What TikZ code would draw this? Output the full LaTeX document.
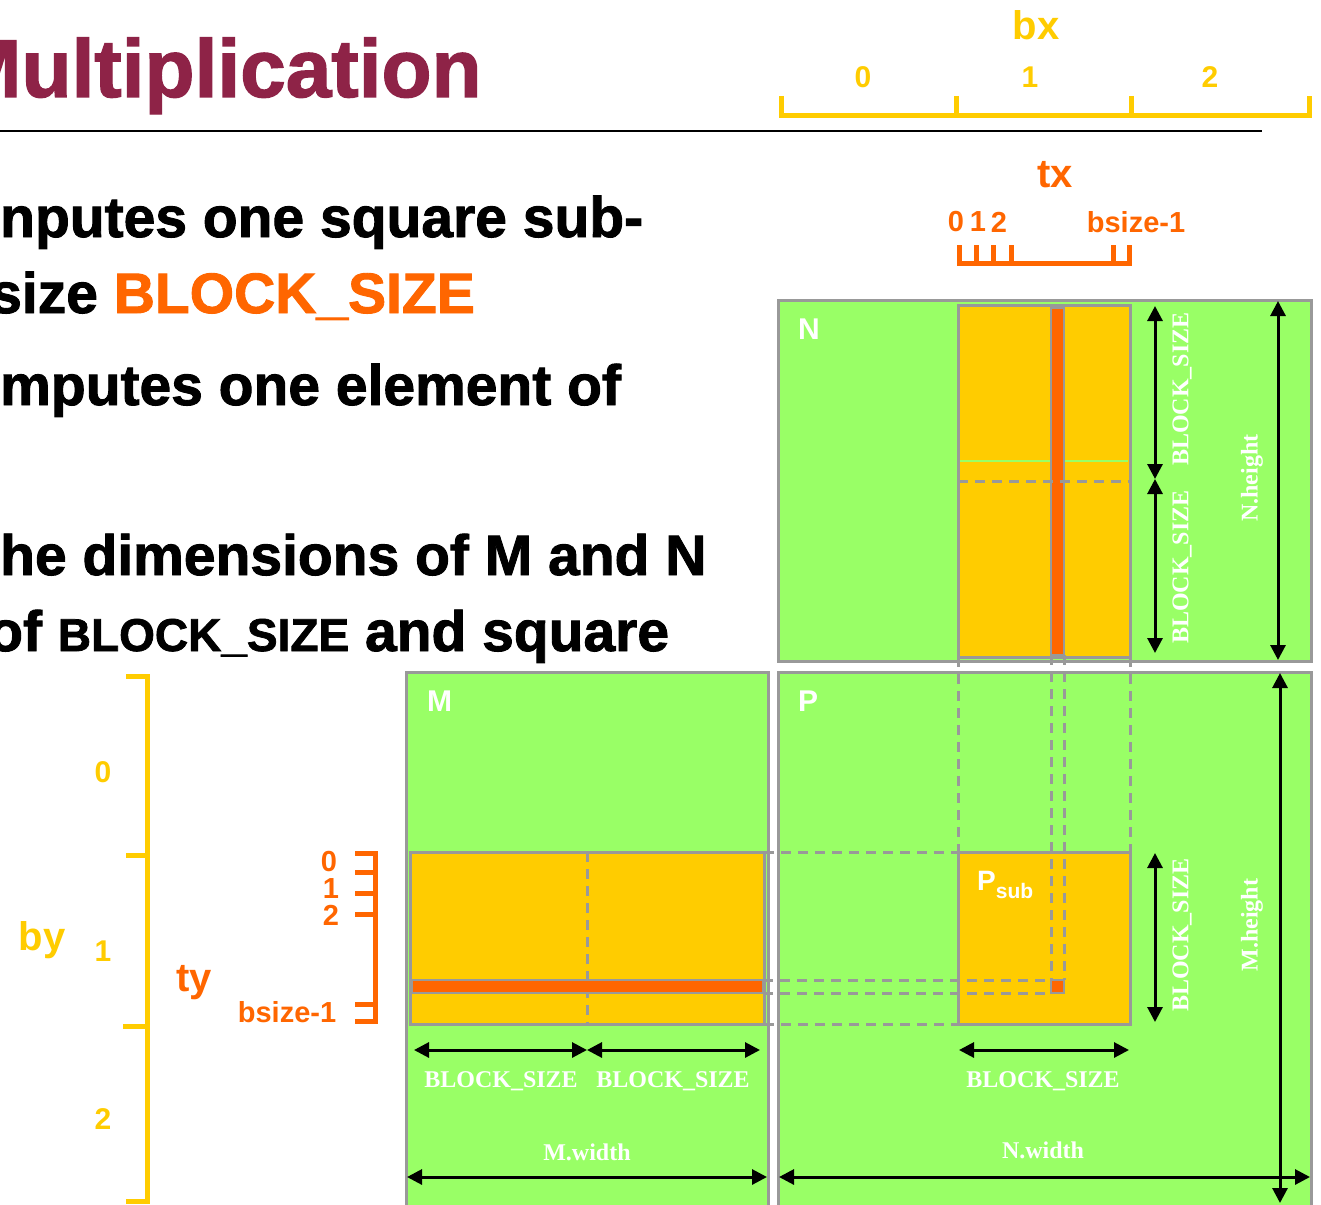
\documentclass[tikz,border=0pt]{standalone}
\usepackage{fontspec}
\setmainfont{Liberation Sans}
\newfontfamily\timesfont{Liberation Serif}
\newfontfamily\heavyfont{Liberation Sans}[UprightFont=* Bold, FakeBold=1.6]
\usepackage{tikz}
\usetikzlibrary{arrows.meta,positioning,calc}
\definecolor{titlered}{HTML}{8E2347}
\definecolor{matgreen}{HTML}{99FF66}
\definecolor{subyellow}{HTML}{FFCC00}
\definecolor{gridgray}{HTML}{999999}
\definecolor{idxorange}{HTML}{FF6600}

\begin{document}
\begin{tikzpicture}[x=1pt, y=-1pt,
  matbox/.style={draw=gridgray, line width=3pt, fill=matgreen, inner sep=0pt, outer sep=0pt, anchor=north west},
  subbox/.style={draw=gridgray, line width=3pt, fill=subyellow, inner sep=0pt, outer sep=0pt, anchor=north west},
  elembox/.style={draw=gridgray, line width=2.5pt, fill=idxorange, inner sep=0pt, outer sep=0pt, anchor=north west},
  guide/.style={gridgray, line width=3pt, dash pattern=on 10pt off 7pt},
  dimarrow/.style={line width=3pt, {Triangle[length=15pt,width=15pt]}-{Triangle[length=15pt,width=15pt]}},
  dimlab/.style={text=white, font=\timesfont\bfseries\fontsize{24}{24}\selectfont, inner sep=0pt},
  matlab/.style={text=white, font=\bfseries\fontsize{30}{30}\selectfont, inner sep=0pt},
  bodyline/.style={font=\heavyfont\fontsize{57}{60}\selectfont, anchor=base west, inner sep=0pt},
  blockidx/.style={text=subyellow, font=\bfseries\fontsize{30}{30}\selectfont, inner sep=0pt},
  threadidx/.style={text=idxorange, font=\bfseries\fontsize{29}{29}\selectfont, inner sep=0pt},
  idxname/.style={font=\bfseries\fontsize{40}{40}\selectfont, inner sep=0pt},
  bxbracket/.style={subyellow, line width=5pt},
  txbracket/.style={idxorange, line width=5pt}
]
\useasboundingbox (0,0) rectangle (1321,1204);
\fill[white] (0,0) rectangle (1321,1204);
\clip (0,0) rectangle (1321,1204);

% slide text
\node[anchor=base west, inner sep=0pt, text=titlered, font=\heavyfont\fontsize{82}{82}\selectfont] (title) at (-47,97) {Multiplication};
\coordinate (ruleL) at (0,131);
\coordinate (ruleR) at (1262,131);
\draw[line width=2.5pt] (ruleL) -- (ruleR);
\node[bodyline] (line1) at (0,237) {nputes one square sub-};
\node[bodyline] (line2) at (-10,313) {size \textcolor{idxorange}{BLOCK\_SIZE}};
\node[bodyline] (line3) at (0,405) {mputes one element of};
\node[bodyline] (line4) at (0,575) {he dimensions of M and N};
\node[bodyline] (line5) at (-12,651) {of {\fontsize{46}{46}\selectfont BLOCK\_SIZE} and square};

% block and thread indices
\node[idxname, text=subyellow] (bx) at (1036,25) {bx};
\node[blockidx] (bx0) at (863,77) {0};
\node[blockidx] (bx1) at (1030,77) {1};
\node[blockidx] (bx2) at (1210,77) {2};
\draw[bxbracket] (781,96) -- (781,116) -- (1309,116) -- (1309,96);
\draw[bxbracket] (956,96) -- (956,116);
\draw[bxbracket] (1131,96) -- (1131,116);

\node[idxname, text=idxorange] (tx) at (1055,175) {tx};
\node[threadidx] (tx0) at (956,222) {0};
\node[threadidx] (tx1) at (978,222) {1};
\node[threadidx] (tx2) at (999,222) {2};
\node[threadidx] (txn) at (1136,222) {bsize-1};
\draw[txbracket] (959,245) -- (959,263) -- (1129,263) -- (1129,245);
\draw[txbracket] (976,245) -- (976,263);
\draw[txbracket] (993,245) -- (993,263);
\draw[txbracket] (1011,245) -- (1011,263);
\draw[txbracket] (1113,245) -- (1113,263);

\node[idxname, text=subyellow] (by) at (42,940) {by};
\node[blockidx] (by0) at (103,772) {0};
\node[blockidx] (by1) at (103,951) {1};
\node[blockidx] (by2) at (103,1119) {2};
\draw[bxbracket] (126,676) -- (147,676) -- (147,1201) -- (126,1201);
\draw[bxbracket] (126,855) -- (147,855);
\draw[bxbracket] (123,1026) -- (147,1026);

\node[idxname, text=idxorange] (ty) at (194,983) {ty};
\node[threadidx] (ty0) at (329,862) {0};
\node[threadidx] (ty1) at (331,889) {1};
\node[threadidx] (ty2) at (331,915) {2};
\node[threadidx] (tyn) at (287,1012) {bsize-1};
\draw[txbracket] (355,853) -- (375,853) -- (375,1021) -- (355,1021);
\draw[txbracket] (355,872) -- (375,872);
\draw[txbracket] (355,893) -- (375,893);
\draw[txbracket] (355,914) -- (375,914);
\draw[txbracket] (355,1004) -- (375,1004);

% matrix M
\node[matbox, minimum width=362pt, minimum height=545pt] (M) at (406,672) {};
\node[matlab, below right=19pt and 21pt of M.north west] (Mname) {M};
\node[subbox, minimum width=354pt, minimum height=172pt] (Mrow) at (410,852) {};
\draw[guide] (Mrow.north) -- (Mrow.south);
\node[elembox, minimum width=351pt, minimum height=13pt] (Mbar) at (412,980) {};
\coordinate (mb0) at (414,1050);
\coordinate (mb1) at (587,1050);
\coordinate (mb2) at (760,1050);
\draw[dimarrow] (mb0) -- (mb1);
\draw[dimarrow] (mb1) -- (mb2);
\node[dimlab] (mbl1) at (501,1081) {BLOCK\_SIZE};
\node[dimlab] (mbl2) at (673,1081) {BLOCK\_SIZE};
\coordinate (mw0) at (407,1177);
\coordinate (mw1) at (767,1177);
\draw[dimarrow] (mw0) -- (mw1);
\node[dimlab] (mwl) at (587,1152) {M.width};

% matrix N
\node[matbox, minimum width=533pt, minimum height=361pt] (N) at (778,300) {};
\node[matlab, below right=19pt and 20pt of N.north west] (Nname) {N};
\node[subbox, minimum width=172pt, minimum height=352pt] (Ncol) at (958,305) {};
\coordinate (nsplitL) at (960,461);
\coordinate (nsplitR) at (1128,461);
\draw[matgreen, line width=1.2pt] (nsplitL) -- (nsplitR);
\node[elembox, minimum width=13pt, minimum height=347pt] (Nbar) at (1051,308) {};
\draw[guide] (Ncol.west) -- (Ncol.east);
\coordinate (nb0) at (1155,306);
\coordinate (nb1) at (1155,479);
\coordinate (nb2) at (1155,653);
\draw[dimarrow] (nb0) -- (nb1);
\draw[dimarrow] (nb1) -- (nb2);
\node[dimlab, rotate=90] (nbl1) at (1182,389) {BLOCK\_SIZE};
\node[dimlab, rotate=90] (nbl2) at (1182,567) {BLOCK\_SIZE};
\coordinate (nh0) at (1278,301);
\coordinate (nh1) at (1278,660);
\draw[dimarrow] (nh0) -- (nh1);
\node[dimlab, rotate=90] (nhl) at (1252,478) {N.height};

% matrix P
\node[matbox, minimum width=533pt, minimum height=545pt] (P) at (778,672) {};
\node[matlab, below right=19pt and 20pt of P.north west] (Pname) {P};
\node[subbox, minimum width=172pt, minimum height=172pt] (Psub) at (958,852) {};
\node[matlab, anchor=north west, font=\bfseries\fontsize{28}{28}\selectfont, below right=19pt and 19pt of Psub.north west] (Psubname) {P\raisebox{-8pt}{\fontsize{21}{21}\selectfont sub}};
\draw[guide] (Ncol.south west) -- (Psub.north west);
\draw[guide] (Ncol.south east) -- (Psub.north east);
\draw[guide] (Mrow.north east) -- (Psub.north west);
\draw[guide] (Mrow.south east) -- (Psub.south west);
\node[elembox, minimum width=13pt, minimum height=13pt] (Pel) at (1051,980) {};
\draw[guide] (Nbar.south west) -- (Pel.north west);
\draw[guide] (Nbar.south east) -- (Pel.north east);
\draw[guide] (Mbar.north east) -- (Pel.north west);
\draw[guide] (Mbar.south east) -- (Pel.south west);
\coordinate (pb0) at (1155,853);
\coordinate (pb1) at (1155,1022);
\draw[dimarrow] (pb0) -- (pb1);
\node[dimlab, rotate=90] (pbl) at (1182,935) {BLOCK\_SIZE};
\coordinate (pw0) at (959,1050);
\coordinate (pw1) at (1129,1050);
\draw[dimarrow] (pw0) -- (pw1);
\node[dimlab] (pwl) at (1043,1081) {BLOCK\_SIZE};
\coordinate (mh0) at (1280,673);
\coordinate (mh1) at (1280,1203);
\draw[dimarrow] (mh0) -- (mh1);
\node[dimlab, rotate=90] (mhl) at (1252,925) {M.height};
\coordinate (nw0) at (779,1177);
\coordinate (nw1) at (1310,1177);
\draw[dimarrow] (nw0) -- (nw1);
\node[dimlab] (nwl) at (1043,1150) {N.width};
\end{tikzpicture}
\end{document}
